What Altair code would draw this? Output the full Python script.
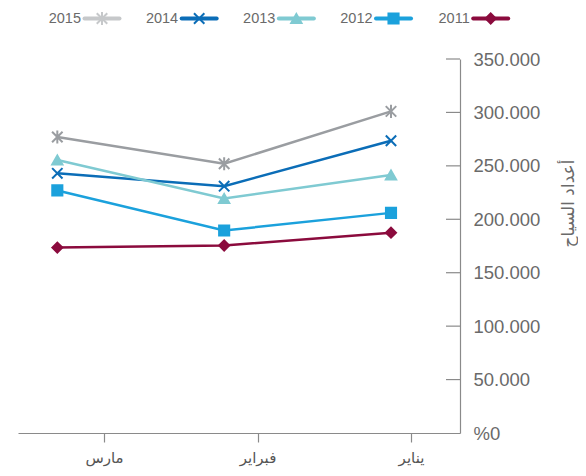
import altair as alt
import pandas as pd

# ---- data ----
months = ["يناير", "فبراير", "مارس"]            # chronological
months_left_to_right = ["مارس", "فبراير", "يناير"]
years = ["2015", "2014", "2013", "2012", "2011"]
v2015 = [301000, 252000, 277000]
v2014 = [273500, 231000, 243000]
v2013 = [241500, 219500, 255500]
v2012 = [206000, 189500, 227000]
v2011 = [187500, 175500, 173500]
y_ticks = [0, 50000, 100000, 150000, 200000, 250000, 300000, 350000]
y_title = "أعداد السياح"

series = {"2015": v2015, "2014": v2014, "2013": v2013, "2012": v2012, "2011": v2011}

# ---- styles ----
line_colors = ["#9a9da1", "#0b6db7", "#7fcad2", "#1ba1dc", "#8b0b3d"]
legend_colors = ["#c6c8ca", "#0b6db7", "#7fcad2", "#1ba1dc", "#8b0b3d"]
shapes = [
    "M-1,-1L1,1M-1,1L1,-1M0,-1.25L0,1.25",
    "M-1,-1L1,1M-1,1L1,-1",
    "triangle-up",
    "square",
    "diamond",
]
sizes = [110, 100, 110, 90, 70]

rows = []
for y in years:
    for i, m in enumerate(months):
        rows.append({"year": y, "month": m, "idx": i, "value": series[y][i]})
df = pd.DataFrame(rows)
leg = pd.DataFrame({"year": years})
ticks_df = pd.DataFrame({"tick": y_ticks[1:]})

W, H = 442, 374
AX = "#8a8a8a"

color_line = alt.Scale(domain=years, range=line_colors)
color_leg = alt.Scale(domain=years, range=legend_colors)
shape_scale = alt.Scale(domain=years, range=shapes)
size_scale = alt.Scale(domain=years, range=sizes)
y_scale = alt.Scale(domain=[0, 350000], nice=False, zero=True)

x_data = alt.X("month:N", scale=alt.Scale(domain=months_left_to_right, padding=0.3246, align=0.363), axis=None)

y_main = alt.Y(
    "value:Q",
    scale=y_scale,
    axis=alt.Axis(
        orient="right", values=y_ticks, grid=False,
        ticks=False, tickSize=0, domainColor=AX, domainWidth=1.2,
        labelExpr="datum.value == 0 ? '%0' : format(datum.value / 1000, '.3f')",
        labelPadding=13, labelFontSize=18.5, labelColor="#6a6a6a", labelFont="Liberation Sans",
        labelAlign="left", labelBaseline="middle", labelOverlap=False,
        title=y_title, titleAngle=270, titleX=108, titleY=144,
        titleFont="DejaVu Sans", titleFontSize=17, titleFontWeight="normal",
        titleColor="#6a6a6a", titleAlign="center", titleBaseline="middle",
    ),
)

lines = alt.Chart(df).mark_line(strokeWidth=2.5).encode(
    x=x_data,
    y=y_main,
    color=alt.Color("year:N", scale=color_line, legend=None),
    order=alt.Order("idx:Q"),
)

points = alt.Chart(df).mark_point(filled=True, opacity=1, strokeWidth=2).encode(
    x=x_data,
    y=alt.Y("value:Q", scale=y_scale, axis=None),
    shape=alt.Shape("year:N", scale=shape_scale, legend=None),
    fill=alt.Fill("year:N", scale=color_line, legend=None),
    stroke=alt.Stroke("year:N", scale=color_line, legend=None),
    size=alt.Size("year:N", scale=size_scale, legend=None),
)

# inward ticks of the value axis
ytick_rules = alt.Chart(ticks_df).mark_rule(color=AX, strokeWidth=1.2).encode(
    y=alt.Y("tick:Q", scale=y_scale, axis=None),
    x=alt.value(W - 14),
    x2=alt.value(W),
)

axis_layer = alt.Chart(df).mark_point(opacity=0).encode(
    x=alt.X(
        "month:N",
        scale=alt.Scale(domain=months_left_to_right, padding=0.44, align=0.637),
        axis=alt.Axis(
            orient="bottom", title=None, grid=False, labelAngle=0,
            domainColor=AX, domainWidth=1.2, tickColor=AX, tickWidth=1.2, tickSize=9,
            labelFont="DejaVu Sans", labelFontSize=15, labelColor="#555555", labelPadding=8,
        ),
    ),
    y=alt.value(0),
)

x_leg = alt.X("year:N", scale=alt.Scale(domain=years, range=[84, 472.7], padding=0), axis=None)
LY = -40.5

leg_text = alt.Chart(leg).mark_text(
    align="right", baseline="middle", dx=-21, fontSize=14.5, font="Liberation Sans", color="#6a6a6a"
).encode(x=x_leg, y=alt.value(LY), text="year:N")

leg_line = alt.Chart(leg).mark_point(
    shape="M-1,0L1,0", size=1225, strokeWidth=4, filled=False, opacity=1, strokeCap="round"
).encode(
    x=x_leg, y=alt.value(LY), color=alt.Color("year:N", scale=color_leg, legend=None)
)

leg_pts = alt.Chart(leg).mark_point(filled=True, opacity=1, strokeWidth=2).encode(
    x=x_leg, y=alt.value(LY),
    shape=alt.Shape("year:N", scale=shape_scale, legend=None),
    fill=alt.Fill("year:N", scale=color_leg, legend=None),
    stroke=alt.Stroke("year:N", scale=color_leg, legend=None),
    size=alt.Size("year:N", scale=size_scale, legend=None),
)

chart = alt.layer(axis_layer, ytick_rules, lines, points, leg_line, leg_pts, leg_text).resolve_scale(
    x="independent", color="independent", fill="independent", stroke="independent"
).resolve_axis(y="independent").properties(
    width=W, height=H,
    autosize=alt.AutoSizeParams(type="none"),
    padding={"left": 10, "top": 51, "right": 118, "bottom": 35},
    background="white",
).configure_view(stroke=None)

chart.save("out.html", embed_options={"renderer": "svg", "actions": False})
